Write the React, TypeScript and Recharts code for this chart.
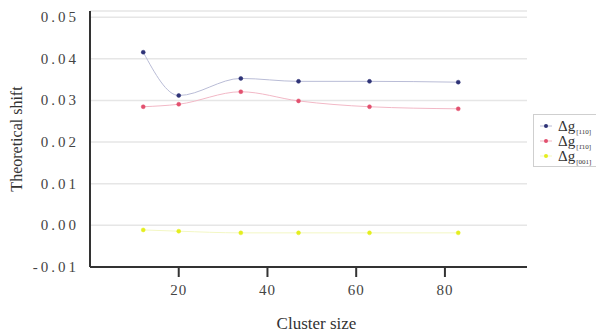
import React from "react";
import { LineChart, Line, XAxis, YAxis, CartesianGrid } from "recharts";

// cluster sizes (x) and the three theoretical shift series
const clusterSizes = [12, 20, 34, 47, 63, 83];
const shift110 = [0.0416, 0.0312, 0.0353, 0.0346, 0.0346, 0.0344];
const shift1b10 = [0.0285, 0.0291, 0.0321, 0.0299, 0.0285, 0.028];
const shift001 = [-0.0011, -0.0014, -0.0018, -0.0018, -0.0018, -0.0018];

const xTicks = [20, 40, 60, 80];
const yTicks = [-0.01, 0, 0.01, 0.02, 0.03, 0.04, 0.05];

const SERIES = [
  { key: "a", sub: "[110]", dot: "#2e3377", line: "#b9bcd6" },
  { key: "b", sub: "[1\u030410]", dot: "#e2506e", line: "#f2b8c6" },
  { key: "c", sub: "[001]", dot: "#e4ee1e", line: "#f3f7c4" },
];

const FONT = "'Liberation Serif', 'DejaVu Serif', serif";

const data = clusterSizes.map((x, i) => ({
  x,
  a: shift110[i],
  b: shift1b10[i],
  c: shift001[i],
}));

function XTick(props: any) {
  const { x, y, payload } = props;
  return (
    <text
      x={x}
      y={y + 10}
      textAnchor="middle"
      style={{ fontFamily: FONT, fontSize: 15, fill: "#444", letterSpacing: 1 }}
    >
      {payload.value}
    </text>
  );
}

function YTick(props: any) {
  const { x, y, payload } = props;
  return (
    <text
      x={x + 2}
      y={y + 5}
      textAnchor="end"
      style={{ fontFamily: FONT, fontSize: 15, fill: "#444", letterSpacing: 3 }}
    >
      {payload.value.toFixed(2)}
    </text>
  );
}

function LegendBox() {
  return (
    <div
      style={{
        position: "absolute",
        left: 533,
        top: 114,
        width: 72,
        padding: "3px 0",
        border: "1px solid #cfcfcf",
        fontFamily: FONT,
        color: "#333",
        background: "#fff",
      }}
    >
      {SERIES.map((s) => (
        <div
          key={s.key}
          style={{ display: "flex", alignItems: "center", height: 15 }}
        >
          <svg width={24} height={10}>
            <line x1={6} y1={5} x2={18} y2={5} stroke={s.line} strokeWidth={1} />
            <circle cx={12} cy={5} r={2} fill={s.dot} />
          </svg>
          <span style={{ fontSize: 15, lineHeight: "14px", whiteSpace: "nowrap" }}>
            Δg
            <span
              style={{
                fontSize: 7,
                lineHeight: 0,
                position: "relative",
                top: 3,
                marginLeft: 1,
              }}
            >
              {s.sub}
            </span>
          </span>
        </div>
      ))}
    </div>
  );
}

export default function App() {
  return (
    <div
      style={{
        position: "absolute",
        left: 0,
        top: 0,
        width: 596,
        height: 335,
        background: "#fff",
        overflow: "hidden",
        fontFamily: FONT,
      }}
    >
      <LineChart
        width={596}
        height={335}
        data={data}
        margin={{ top: 11, right: 69, left: 0, bottom: 0 }}
      >
        <CartesianGrid vertical={false} stroke="#e6e6e6" strokeWidth={1.5} />
        <XAxis
          dataKey="x"
          type="number"
          domain={[0, 98.5]}
          ticks={xTicks}
          height={68}
          axisLine={{ stroke: "#333", strokeWidth: 2 }}
          tickLine={{ stroke: "#333", strokeWidth: 2 }}
          tickSize={10}
          tickMargin={8}
          tick={<XTick />}
          label={{
            value: "Cluster size",
            position: "insideBottom",
            offset: 6,
            dx: 8,
            fill: "#333",
            fontSize: 17,
            fontFamily: FONT,
          }}
        />
        <YAxis
          type="number"
          domain={[-0.01, 0.0515]}
          ticks={yTicks}
          width={90}
          allowDataOverflow
          axisLine={{ stroke: "#333", strokeWidth: 2 }}
          tickLine={false}
          tickSize={0}
          tickMargin={13}
          tick={<YTick />}
          label={{
            value: "Theoretical shift",
            angle: -90,
            position: "insideLeft",
            offset: 16,
            fill: "#333",
            fontSize: 16,
            fontFamily: FONT,
            style: { textAnchor: "middle" },
          }}
        />
        {SERIES.map((s) => (
          <Line
            key={s.key}
            dataKey={s.key}
            type="monotone"
            stroke={s.line}
            strokeWidth={1}
            dot={{ r: 2, fill: s.dot, stroke: s.dot, strokeWidth: 0.5 }}
            activeDot={false}
            isAnimationActive={false}
          />
        ))}
      </LineChart>
      <LegendBox />
    </div>
  );
}
